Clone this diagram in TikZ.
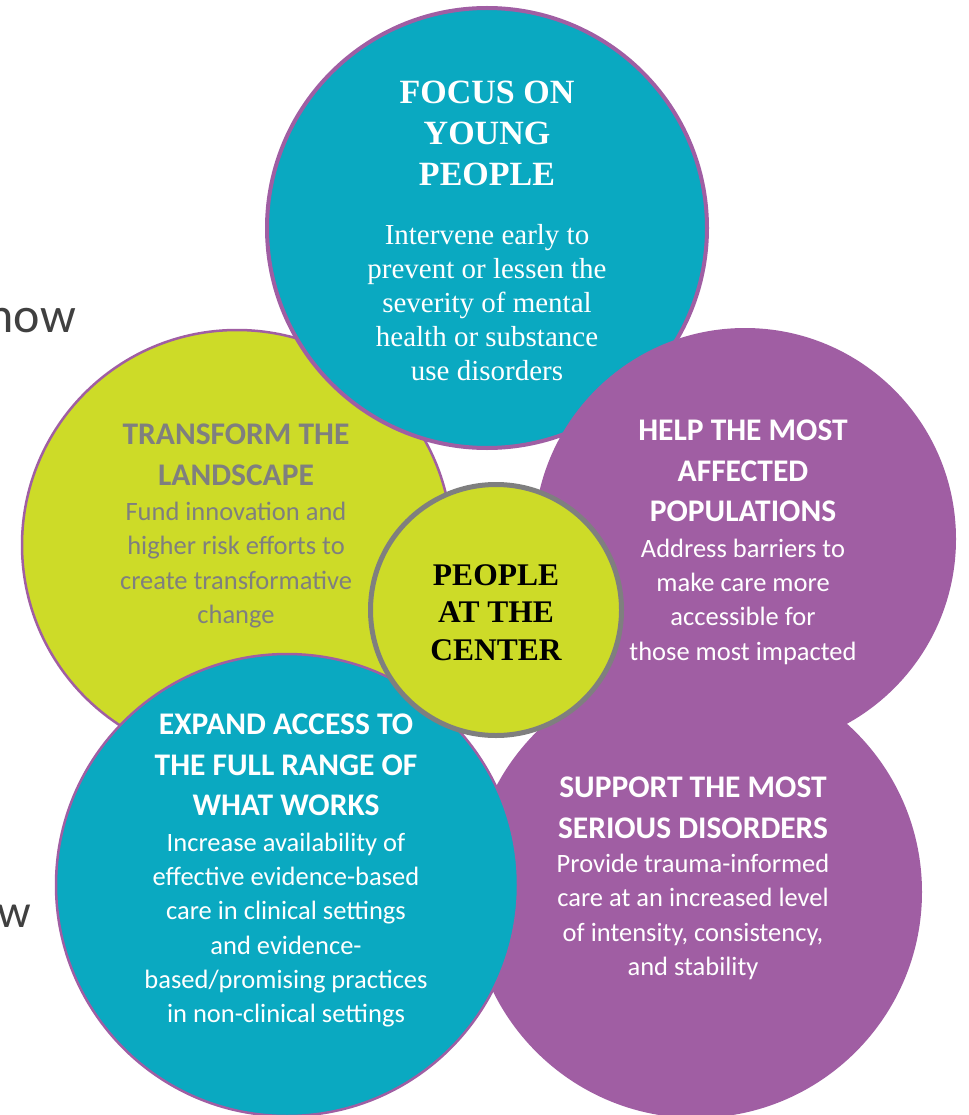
\documentclass[tikz,border=0pt]{standalone}
\usepackage{fontspec}
\newfontfamily\sansfam{Carlito}
\newfontfamily\seriffam{Liberation Serif}
\definecolor{tealc}{HTML}{0AA9C1}
\definecolor{purplec}{HTML}{A05EA3}
\definecolor{limec}{HTML}{CDDB28}
\definecolor{greytext}{HTML}{7F7F7F}
\definecolor{darktext}{HTML}{404040}
\tikzset{
  bubble/.style={circle, inner sep=0pt, outer sep=0pt, draw=purplec},
  label/.style={inner sep=0pt, align=center},
  serifhead/.style={label, text=white, font=\seriffam\bfseries\fontsize{34}{41}\selectfont},
  serifbody/.style={label, text=white, font=\seriffam\fontsize{29}{34}\selectfont},
  sanshead/.style={label, font=\sansfam\bfseries\fontsize{31.5}{40.7}\selectfont},
  sansbody/.style={label, font=\sansfam\fontsize{26.5}{34.3}\selectfont},
}
\begin{document}
\begin{tikzpicture}[x=1pt,y=-1pt]
\useasboundingbox (0,0) rectangle (968,1115);
\clip (0,0) rectangle (968,1115);

% text running in from the left margin
\node[anchor=base east, inner sep=0pt, text=darktext, font=\sansfam\fontsize{50}{52}\selectfont] (nowword) at (76,332) {now};
\node[anchor=base east, inner sep=0pt, text=darktext, font=\sansfam\fontsize{47}{49}\selectfont] (wword) at (31,927) {w};

% the five outer circles, back to front
\node[bubble, fill=limec, line width=2.5pt, minimum size=430pt] (transform) at (237,545) {};
\node[bubble, fill=tealc, line width=4pt, minimum size=440pt] (focus) at (487,228) {};
\node[bubble, fill=purplec, line width=2pt, minimum size=420pt] (help) at (745,539) {};
\node[bubble, fill=purplec, line width=2pt, minimum size=450pt] (support) at (696,892) {};
\node[bubble, fill=tealc, line width=2.5pt, minimum size=462pt] (expand) at (287,885) {};

% centre circle
\node[circle, inner sep=0pt, fill=limec, draw=greytext, line width=5pt, minimum size=251pt] (people) at (496,610) {};

% FOCUS ON YOUNG PEOPLE
\node[serifhead] (focushead) at (487,133) {FOCUS ON\\YOUNG\\PEOPLE};
\node[serifbody] (focusbody) at (487,303) {Intervene early to\\prevent or lessen the\\severity of mental\\health or substance\\use disorders};

% TRANSFORM THE LANDSCAPE
\node[sanshead, text=greytext] (transhead) at (236,455) {TRANSFORM THE\\LANDSCAPE};
\node[sansbody, text=greytext] (transbody) at (236,565) {Fund innovation and\\higher risk efforts to\\create transformative\\change};

% HELP THE MOST AFFECTED POPULATIONS
\node[sanshead, text=white] (helphead) at (743,471) {HELP THE MOST\\AFFECTED\\POPULATIONS};
\node[sansbody, text=white] (helpbody) at (743,601.5) {Address barriers to\\make care more\\accessible for\\those most impacted};

% EXPAND ACCESS TO THE FULL RANGE OF WHAT WORKS
\node[sanshead, text=white] (expandhead) at (286,765) {EXPAND ACCESS TO\\THE FULL RANGE OF\\WHAT WORKS};
\node[sansbody, text=white] (expandbody) at (286,930) {Increase availability of\\effective evidence-based\\care in clinical settings\\and evidence-\\based/promising practices\\in non-clinical settings};

% SUPPORT THE MOST SERIOUS DISORDERS
\node[sanshead, text=white] (supporthead) at (693,807.5) {SUPPORT THE MOST\\SERIOUS DISORDERS};
\node[sansbody, text=white] (supportbody) at (693,917) {Provide trauma-informed\\care at an increased level\\of intensity, consistency,\\and stability};

% PEOPLE AT THE CENTER
\node[label, text=black, font=\seriffam\bfseries\fontsize{31.5}{37.5}\selectfont] (peoplehead) at (496,612.5) {PEOPLE\\AT THE\\CENTER};
\end{tikzpicture}
\end{document}
